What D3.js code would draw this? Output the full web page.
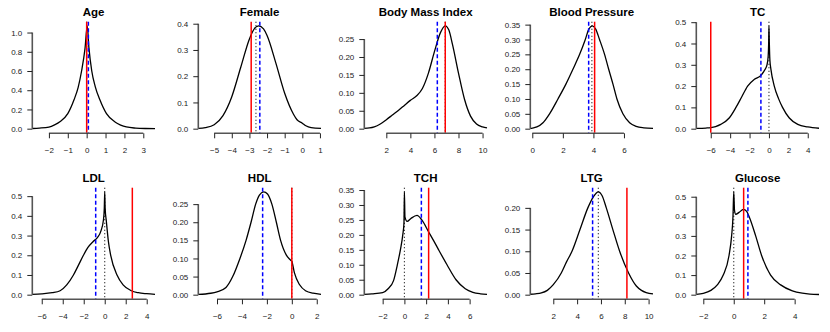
<!DOCTYPE html>
<html>
<head>
<meta charset="utf-8">
<script src="https://cdn.jsdelivr.net/npm/d3@7/dist/d3.min.js"></script>
<style>
  body { margin: 0; background: #fff; }
  svg { display: block; font-family: "Liberation Sans", Arial, sans-serif; }
</style>
</head>
<body>
<div id="chart"></div>
<script>
// panel titles
var titles = ["Age", "Female", "Body Mass Index", "Blood Pressure", "TC",
              "LDL", "HDL", "TCH", "LTG", "Glucose"];

// density curves, [x, density]
var curveAge = [[-2.88,0.002],[-2.5,0.006],[-2,0.017],[-1.7,0.04],[-1.4,0.075],[-1,0.156],[-0.67,0.3],[-0.45,0.43],
  [-0.27,0.6],[-0.09,0.83],[0.03,1.07],[0.12,0.84],[0.27,0.6],[0.45,0.44],[0.7,0.3],[1.05,0.156],[1.5,0.07],
  [1.8,0.038],[2.1,0.018],[2.6,0.006],[3.1,0.002],[3.62,0.001]];
var curveFemale = [[-5.9,0.001],[-5.5,0.004],[-5,0.015],[-4.5,0.05],[-4,0.122],[-3.5,0.232],[-3,0.342],[-2.75,0.378],
  [-2.48,0.392],[-2.2,0.38],[-2,0.355],[-1.5,0.25],[-1,0.135],[-0.5,0.055],[-0.3,0.034],[0,0.021],[0.2,0.011],
  [0.5,0.004],[1.06,0.001]];
var curveBMI = [[0.17,0.001],[0.6,0.002],[1,0.005],[1.5,0.013],[2,0.025],[2.5,0.038],[3,0.051],[3.5,0.065],[4,0.079],
  [4.5,0.091],[5,0.112],[5.5,0.155],[6,0.215],[6.5,0.268],[6.9,0.287],[7.2,0.275],[7.5,0.235],[8,0.155],[8.5,0.082],
  [9,0.035],[9.5,0.013],[10,0.005],[10.37,0.002]];
var curveBP = [[-0.13,0.001],[0,0.002],[0.3,0.006],[0.7,0.02],[1.13,0.05],[1.68,0.1],[2.2,0.15],[2.66,0.2],[3.1,0.25],
  [3.47,0.3],[3.7,0.335],[3.93,0.346],[4.15,0.335],[4.4,0.3],[4.73,0.25],[5.0,0.2],[5.28,0.15],[5.54,0.1],[5.93,0.05],
  [6.37,0.02],[6.8,0.008],[7.3,0.003],[7.9,0.001]];
var curveTC = [[-7.49,0.001],[-6.5,0.003],[-6,0.005],[-5.5,0.01],[-4.97,0.02],[-4.1,0.05],[-3.4,0.1],[-2.8,0.15],
  [-2.2,0.2],[-1.5,0.232],[-0.83,0.25],[-0.45,0.275],[-0.2,0.3],[-0.08,0.34],[-0.03,0.4],[0,0.483],[0.04,0.4],
  [0.1,0.32],[0.2,0.28],[0.55,0.2],[1,0.14],[1.4,0.1],[2.1,0.05],[2.97,0.02],[4,0.008],[5.16,0.002]];
var curveLDL = [[-6.9,0.002],[-6,0.004],[-5,0.01],[-4.25,0.02],[-3.62,0.05],[-2.98,0.1],[-2.5,0.15],[-2.03,0.2],
  [-1.6,0.24],[-1.1,0.27],[-0.7,0.29],[-0.35,0.325],[-0.12,0.38],[-0.04,0.44],[0,0.522],[0.04,0.44],[0.16,0.37],
  [0.35,0.27],[0.57,0.2],[1.17,0.1],[1.75,0.05],[2.54,0.02],[3.2,0.01],[4,0.005],[4.79,0.002]];
var curveHDL = [[-7.5,0.001],[-6.5,0.004],[-6,0.008],[-5.28,0.02],[-4.74,0.05],[-4.16,0.1],[-3.67,0.15],[-3.27,0.2],
  [-2.9,0.25],[-2.6,0.275],[-2.26,0.284],[-1.95,0.278],[-1.6,0.25],[-1.24,0.2],[-0.9,0.15],[-0.45,0.11],[-0.15,0.097],
  [0,0.092],[0.21,0.06],[0.61,0.028],[1.14,0.01],[1.7,0.004],[2.34,0.001]];
var curveTCH = [[-3.69,0.001],[-3,0.003],[-2,0.007],[-1.5,0.02],[-1,0.047],[-0.65,0.1],[-0.37,0.15],[-0.15,0.2],
  [-0.04,0.24],[0,0.344],[0.05,0.26],[0.25,0.245],[0.6,0.255],[1.16,0.265],[1.6,0.25],[2.23,0.21],[2.7,0.18],
  [3.15,0.15],[3.92,0.1],[4.75,0.05],[5.6,0.02],[6.3,0.008],[7,0.003],[7.6,0.001]];
var curveLTG = [[0.07,0.001],[0.5,0.002],[1,0.004],[1.5,0.01],[2,0.023],[2.67,0.05],[3.1,0.075],[3.57,0.1],[4.24,0.15],
  [4.9,0.2],[5.35,0.225],[5.78,0.237],[6.1,0.228],[6.45,0.2],[7,0.15],[7.57,0.1],[8.32,0.05],[8.97,0.02],[9.4,0.01],
  [9.8,0.005],[10.37,0.002]];
var curveGlucose = [[-2.46,0.002],[-2,0.007],[-1.5,0.022],[-1.08,0.05],[-0.69,0.1],[-0.31,0.2],[-0.14,0.3],[-0.05,0.4],
  [0,0.525],[0.05,0.43],[0.13,0.41],[0.35,0.42],[0.63,0.435],[0.85,0.425],[1.0,0.4],[1.44,0.3],[1.83,0.2],[2.42,0.1],
  [3.08,0.05],[3.85,0.02],[4.5,0.008],[5,0.003],[5.6,0.001]];

var curves = [curveAge, curveFemale, curveBMI, curveBP, curveTC,
              curveLDL, curveHDL, curveTCH, curveLTG, curveGlucose];

// vertical reference lines
var redLines   = [0, -2.9, 6.9, 4.08, -6.0, 2.63, 0, 2.23, 8.18, 0.65];
var blueLines  = [0.09, -2.41, 6.24, 3.69, -0.83, -0.86, -2.34, 1.56, 5.3, 0.93];
var dotLines   = [0, -2.63, 6.9, 3.9, 0, 0, 0, 0, 5.78, 0];

// tick values
var xTicks = [[-2,-1,0,1,2,3], [-5,-4,-3,-2,-1,0,1], [2,4,6,8,10], [0,2,4,6], [-6,-4,-2,0,2,4],
              [-6,-4,-2,0,2,4], [-6,-4,-2,0,2], [-2,0,2,4,6], [2,4,6,8,10], [-2,0,2,4]];
var yTicks = [["0.0","0.2","0.4","0.6","0.8","1.0"],
              ["0.0","0.1","0.2","0.3","0.4"],
              ["0.00","0.05","0.10","0.15","0.20","0.25"],
              ["0.00","0.05","0.10","0.15","0.20","0.25","0.30","0.35"],
              ["0.0","0.1","0.2","0.3","0.4","0.5"],
              ["0.0","0.1","0.2","0.3","0.4","0.5"],
              ["0.00","0.05","0.10","0.15","0.20","0.25"],
              ["0.00","0.05","0.10","0.15","0.20","0.25","0.30","0.35"],
              ["0.00","0.05","0.10","0.15","0.20"],
              ["0.0","0.1","0.2","0.3","0.4","0.5"]];

var width = 830, height = 332;
var panelW = 166, panelH = 166;
var pl = 32.3, pr = 155, pt = 21.7, pb = 132.8;

var svg = d3.select("#chart").append("svg")
  .attr("width", width)
  .attr("height", height);

svg.append("rect").attr("width", width).attr("height", height).attr("fill", "#fff");

curves.forEach(function(curve, i){
  var col = i % 5, row = Math.floor(i / 5);
  var g = svg.append("g")
    .attr("transform", "translate(" + (col * panelW) + "," + (row * panelH) + ")");

  var x = d3.scaleLinear()
    .domain(d3.extent(curve, function(d){ return d[0]; }))
    .range([pl, pr]);
  var ymax = d3.max(curve, function(d){ return d[1]; });
  var y = d3.scaleLinear()
    .domain([-0.04 * ymax, 1.04 * ymax])
    .range([pb, pt]);

  // title
  g.append("text")
    .attr("x", (pl + pr) / 2)
    .attr("y", 15.5)
    .attr("text-anchor", "middle")
    .attr("font-size", "11.5px")
    .attr("font-weight", "bold")
    .attr("fill", "#000")
    .text(titles[i]);

  // density curve
  var line = d3.line()
    .x(function(d){ return x(d[0]); })
    .y(function(d){ return y(d[1]); })
    .curve(d3.curveMonotoneX);

  g.append("path")
    .datum(curve)
    .attr("d", line)
    .attr("fill", "none")
    .attr("stroke", "#000")
    .attr("stroke-width", 1.3);

  // reference lines
  function vline(v, color, dash, w){
    g.append("line")
      .attr("x1", x(v)).attr("x2", x(v))
      .attr("y1", pt).attr("y2", pb)
      .attr("stroke", color)
      .attr("stroke-width", w)
      .attr("stroke-dasharray", dash);
  }
  vline(dotLines[i], "#000", "1,2.5", 1.1);
  vline(blueLines[i], "#0000ff", "4,2.5", 1.5);
  vline(redLines[i], "#ff0000", null, 1.5);

  // x axis
  var xt = xTicks[i];
  var xAxis = d3.axisBottom(x)
    .tickValues(xt)
    .tickSize(5)
    .tickPadding(9)
    .tickFormat(d3.format("d"));
  var gx = g.append("g")
    .attr("transform", "translate(0," + (pb + 0.5) + ")")
    .call(xAxis);
  gx.select(".domain")
    .attr("d", "M" + x(xt[0]) + ",0H" + x(xt[xt.length - 1]))
    .attr("stroke", "#555")
    .attr("stroke-width", 1.6);

  // y axis
  var yt = yTicks[i];
  var yAxis = d3.axisLeft(y)
    .tickValues(yt.map(Number))
    .tickSize(5)
    .tickPadding(5)
    .tickFormat(function(d, k){ return yt[k]; });
  var gy = g.append("g")
    .attr("transform", "translate(" + pl + ",0)")
    .call(yAxis);
  gy.select(".domain")
    .attr("d", "M0," + y(+yt[0]) + "V" + y(+yt[yt.length - 1]))
    .attr("stroke", "#555")
    .attr("stroke-width", 1.6);

  g.selectAll(".tick line").attr("stroke", "#222");
  g.selectAll(".tick text")
    .attr("font-family", "'Liberation Sans', Arial, sans-serif")
    .attr("font-size", "8px")
    .attr("fill", "#222");
});
</script>
</body>
</html>
